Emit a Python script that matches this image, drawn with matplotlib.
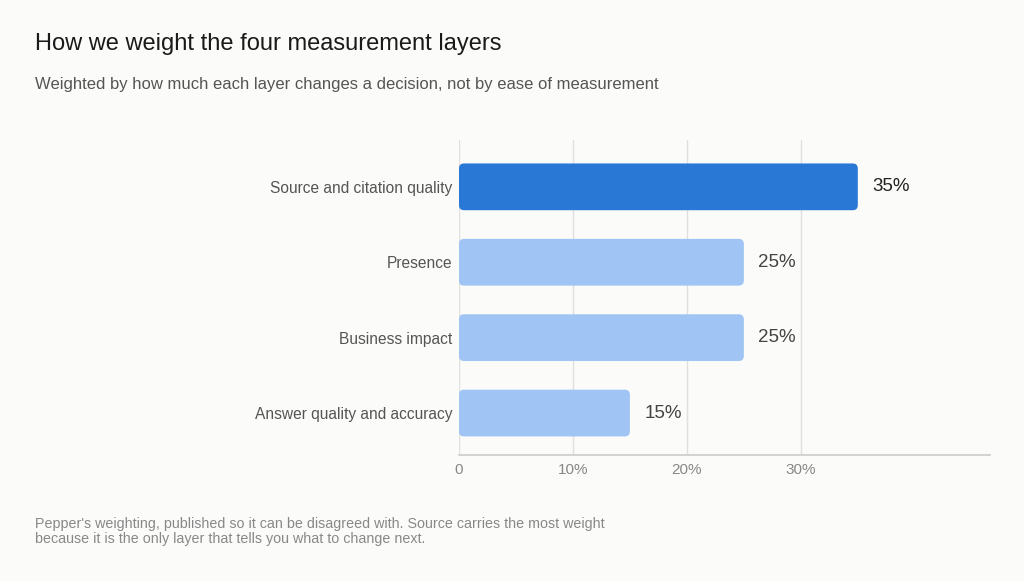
import matplotlib.pyplot as plt
from matplotlib.patches import FancyBboxPatch
from matplotlib.ticker import FuncFormatter

categories = ["Source and citation quality", "Presence", "Business impact",
              "Answer quality and accuracy"]
weights = [35, 25, 25, 15]
ticks = [0, 10, 20, 30]

plt.rcParams["font.family"] = ["Liberation Sans", "DejaVu Sans"]

BG = "#fbfbfa"
DARK = "#2a78d6"
LIGHT = "#a0c5f4"

fig = plt.figure(figsize=(10.24, 5.81), dpi=100, facecolor=BG)
ax = fig.add_axes([0.4482, 0.2169, 0.5186, 0.542])
ax.set_facecolor(BG)

ax.set_xlim(0, 46.6)
ax.set_ylim(3.556, -0.62)
bar_h = 0.62

for i, (cat, w) in enumerate(zip(categories, weights)):
    color = DARK if i == 0 else LIGHT
    patch = FancyBboxPatch((0, i - bar_h / 2), w, bar_h,
                           boxstyle="round,pad=0,rounding_size=0.45",
                           mutation_aspect=0.15,
                           facecolor=color, edgecolor="none", zorder=3)
    ax.add_patch(patch)
    ax.annotate(f"{w}%", xy=(w, i), xytext=(10.5, 0), textcoords="offset points",
                va="center", ha="left", fontsize=13.5,
                color="#222222" if i == 0 else "#444444")

ax.set_yticks(range(len(categories)))
ax.set_yticklabels(categories, fontsize=11.2, color="#555555")
ax.set_xticks(ticks)
ax.xaxis.set_major_formatter(FuncFormatter(lambda v, p: "0" if v == 0 else f"{v:.0f}%"))
ax.tick_params(axis="x", labelsize=11, colors="#888888", length=0, pad=5.5)
ax.tick_params(axis="y", length=0, pad=5)
ax.grid(axis="x", color="#e0e0e0", linewidth=1, zorder=0)

for side in ["top", "right", "left"]:
    ax.spines[side].set_visible(False)
ax.spines["bottom"].set_color("#cccccc")
ax.spines["bottom"].set_linewidth(1.2)
ax.spines["bottom"].set_zorder(4)

fig.text(35 / 1024, 1 - 44 / 581, "How we weight the four measurement layers",
         fontsize=17, color="#1a1a1a", va="center", ha="left")
fig.text(35 / 1024, 1 - 84 / 581,
         "Weighted by how much each layer changes a decision, not by ease of measurement",
         fontsize=12, color="#555555", va="center", ha="left")
fig.text(35 / 1024, 1 - 531.5 / 581,
         "Pepper's weighting, published so it can be disagreed with. Source carries the most weight\n"
         "because it is the only layer that tells you what to change next.",
         fontsize=10.3, color="#888888", va="center", ha="left", linespacing=1.15)

fig.savefig("out.png", dpi=100, facecolor=BG)
